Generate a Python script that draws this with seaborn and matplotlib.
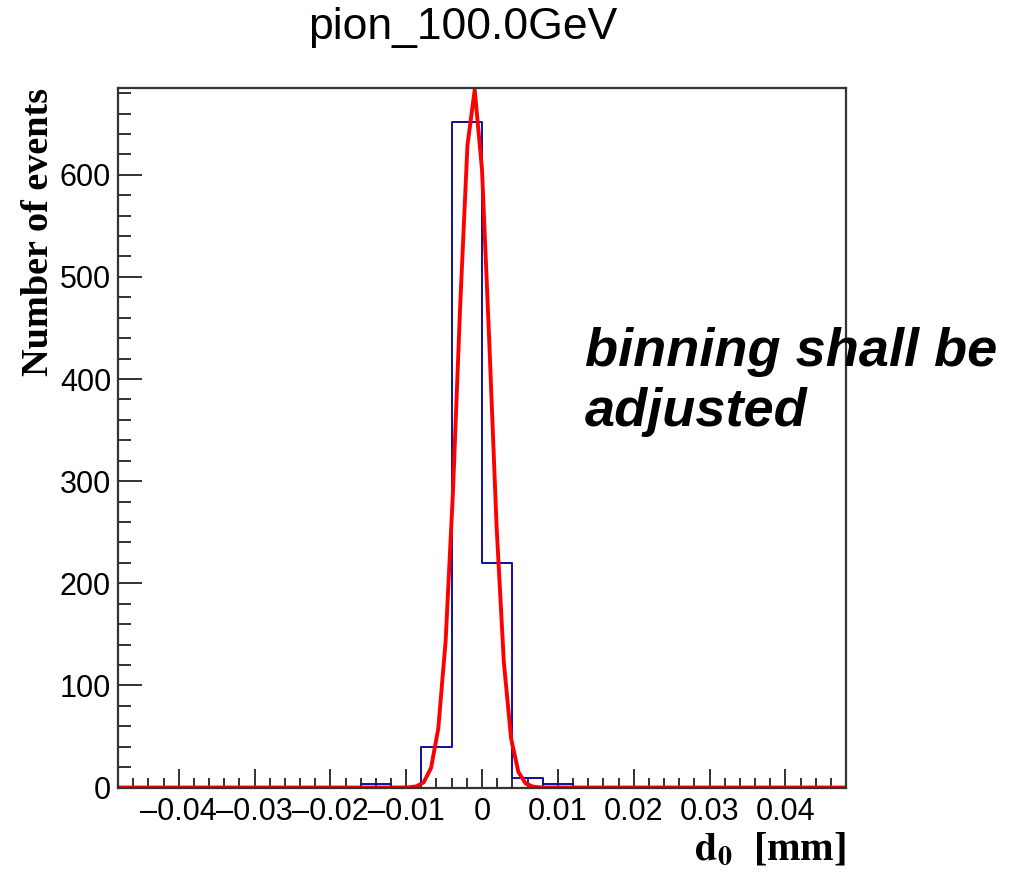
import numpy as np
import pandas as pd
import matplotlib
matplotlib.use("Agg")
import matplotlib.pyplot as plt
import seaborn as sns
from matplotlib.ticker import MultipleLocator, FixedLocator, FixedFormatter

# ---- data ----
bin_edges = [round(-0.048 + 0.004 * i, 4) for i in range(25)]      # 24 bins of 0.004 mm
bin_counts = [0, 0, 0, 0, 0, 0, 0, 0, 3, 0, 40, 652,
              220, 9, 3, 0, 0, 0, 0, 0, 0, 0, 0, 0]
# Gaussian fit parameters
fit_constant = 684.0
fit_mean = -0.00105
fit_sigma = 0.00212
fit_npx = 100

x_tick_values = [-0.04, -0.03, -0.02, -0.01, 0.0, 0.01, 0.02, 0.03, 0.04]
x_tick_labels = ["\u20130.04", "\u20130.03", "\u20130.02", "\u20130.01", "0",
                 "0.01", "0.02", "0.03", "0.04"]
y_tick_values = [0, 100, 200, 300, 400, 500, 600]
y_tick_labels = ["0", "100", "200", "300", "400", "500", "600"]

title_text = "pion_100.0GeV"
ylabel_text = "Number of events"
note_lines = ["binning shall be", "adjusted"]

# ---- build tables ----
edges = np.array(bin_edges)
centers = (edges[:-1] + edges[1:]) / 2
hist_df = pd.DataFrame({"d0": centers, "count": bin_counts})
fx = np.linspace(edges[0], edges[-1], fit_npx + 1)
fit_df = pd.DataFrame({"d0": fx,
                       "fit": fit_constant * np.exp(-0.5 * ((fx - fit_mean) / fit_sigma) ** 2)})

sns.set_theme(style="white")
plt.rcParams["font.family"] = ["Liberation Sans", "DejaVu Sans"]
plt.rcParams["mathtext.fontset"] = "stix"
for k in ["text.color", "axes.labelcolor", "xtick.color", "ytick.color"]:
    plt.rcParams[k] = "black"

fig = plt.figure(figsize=(10.25, 8.75), dpi=100)
ax = fig.add_axes([118 / 1025, 1 - 787.5 / 875, (846 - 118) / 1025, (787.5 - 88) / 875])

sns.histplot(data=hist_df, x="d0", weights="count", bins=bin_edges,
             element="step", fill=False, color="#10109a", linewidth=1.4, ax=ax)
sns.lineplot(data=fit_df, x="d0", y="fit", color="#ff0000", linewidth=2.8, ax=ax)

ax.set_xlim(edges[0], edges[-1])
ax.set_ylim(0, 685)
ax.set_xlabel("")
ax.set_ylabel("")

ax.xaxis.set_major_locator(FixedLocator(x_tick_values))
ax.xaxis.set_major_formatter(FixedFormatter(x_tick_labels))
ax.xaxis.set_minor_locator(MultipleLocator(0.002))
ax.yaxis.set_major_locator(FixedLocator(y_tick_values))
ax.yaxis.set_major_formatter(FixedFormatter(y_tick_labels))
ax.yaxis.set_minor_locator(MultipleLocator(20))

ax.tick_params(axis="x", which="major", direction="in", length=14, width=1.3,
               color="#222222", labelsize=22, pad=7, top=False, bottom=True,
               labelcolor="black")
ax.tick_params(axis="x", which="minor", direction="in", length=7, width=1.3,
               color="#222222", top=False, bottom=True)
ax.tick_params(axis="y", which="major", direction="in", length=17, width=1.3,
               color="#222222", labelsize=22, pad=5, left=True, right=False,
               labelcolor="black")
ax.tick_params(axis="y", which="minor", direction="in", length=9, width=1.3,
               color="#222222", left=True, right=False)
for s in ax.spines.values():
    s.set_color("#333333")
    s.set_linewidth(1.6)

fig.text(463 / 1025, 1 - 28 / 875, title_text, ha="center", va="center",
         fontsize=32, color="black", family=["Liberation Sans", "DejaVu Sans"])

fig.text(39 / 1025, 1 - 88 / 875, ylabel_text, rotation=90, ha="center", va="top",
         fontsize=27.5, fontweight="bold", color="black",
         family=["Liberation Serif", "DejaVu Serif"])

fig.text(846 / 1025, 1 - 850 / 875, r"$\mathbf{d}_{\mathbf{0}}$  [mm]", ha="right", va="center",
         fontsize=29, fontweight="bold", color="black",
         family=["Liberation Serif", "DejaVu Serif"])

fig.text(585 / 1025, 1 - 366 / 875, note_lines[0], ha="left", va="baseline",
         fontsize=39, fontweight="bold", fontstyle="italic", color="black",
         family=["Liberation Sans", "DejaVu Sans"])
fig.text(585 / 1025, 1 - 426 / 875, note_lines[1], ha="left", va="baseline",
         fontsize=39, fontweight="bold", fontstyle="italic", color="black",
         family=["Liberation Sans", "DejaVu Sans"])

fig.savefig("out.png", dpi=100)
